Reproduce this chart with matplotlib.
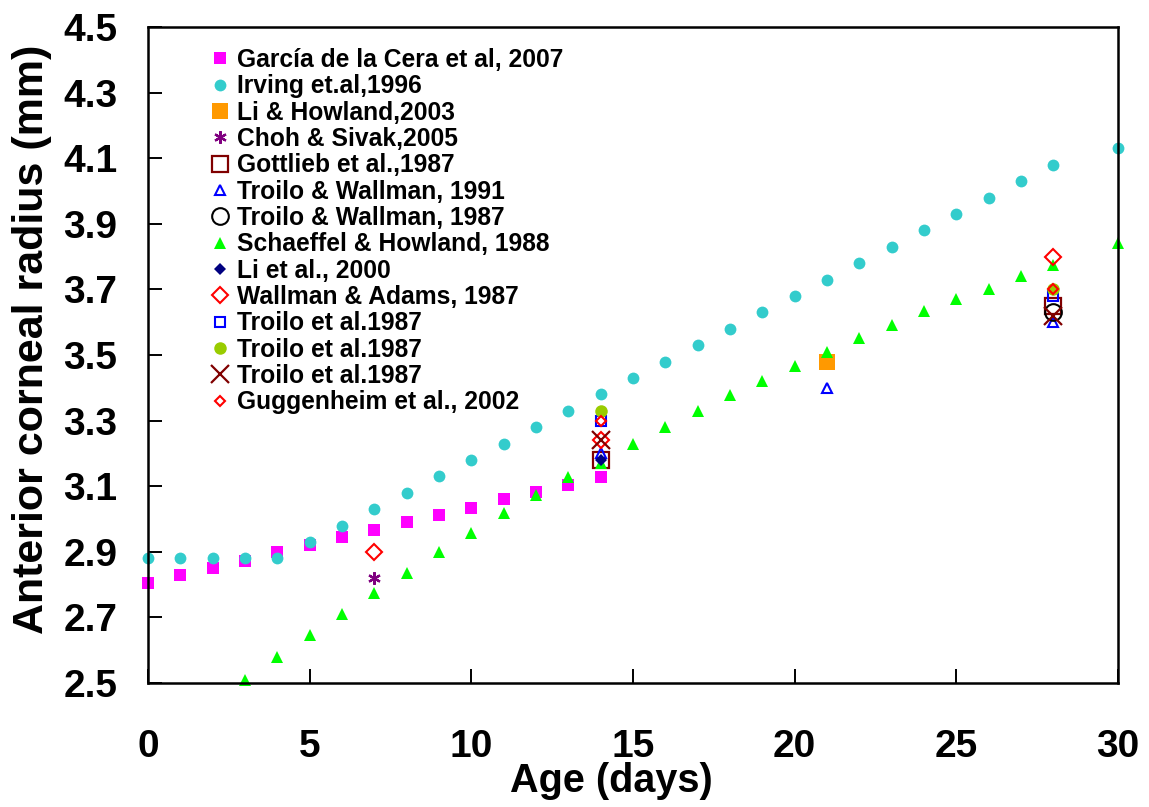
import numpy as np
import matplotlib.pyplot as plt

plt.rcParams['font.family'] = ['Liberation Sans', 'DejaVu Sans']
plt.rcParams['font.weight'] = 'bold'

# Garcia de la Cera et al, 2007
garcia_x = [0, 1, 2, 3, 4, 5, 6, 7, 8, 9, 10, 11, 12, 13, 14]
garcia_y = [2.805, 2.829, 2.851, 2.872, 2.90, 2.92, 2.945, 2.966, 2.99, 3.012,
            3.034, 3.06, 3.082, 3.104, 3.128]
# Irving et al, 1996
irving_x = [0, 1, 2, 3, 4, 5, 6, 7, 8, 9, 10, 11, 12, 13, 14, 15, 16, 17, 18,
            19, 20, 21, 22, 23, 24, 25, 26, 27, 28, 30]
irving_y = [2.88, 2.88, 2.88, 2.88, 2.88, 2.93, 2.98, 3.03, 3.08, 3.13, 3.18,
            3.23, 3.28, 3.33, 3.38, 3.43, 3.48, 3.53, 3.58, 3.63, 3.68, 3.73,
            3.78, 3.83, 3.88, 3.93, 3.98, 4.03, 4.08, 4.13]
# Schaeffel & Howland, 1988
schaeffel_x = [3, 4, 5, 6, 7, 8, 9, 10, 11, 12, 13, 14, 15, 16, 17, 18, 19, 20,
               21, 22, 23, 24, 25, 26, 27, 28, 30]
schaeffel_y = [2.51, 2.58, 2.645, 2.71, 2.775, 2.835, 2.90, 2.957, 3.018, 3.073,
               3.128, 3.17, 3.23, 3.28, 3.33, 3.378, 3.42, 3.467, 3.51, 3.552,
               3.59, 3.634, 3.67, 3.70, 3.74, 3.775, 3.84]
lihow_x, lihow_y = [21], [3.48]
choh_x, choh_y = [7], [2.82]
gottlieb_x, gottlieb_y = [14, 28], [3.18, 3.65]
tw91_x, tw91_y = [14, 21, 28], [3.20, 3.40, 3.60]
tw87_x, tw87_y = [28], [3.63]
li00_x, li00_y = [14], [3.18]
wa_x, wa_y = [7, 14, 28], [2.90, 3.24, 3.80]
tsq_x, tsq_y = [14, 28], [3.30, 3.68]
tdot_x, tdot_y = [14, 28], [3.33, 3.70]
tx_x, tx_y = [14, 28], [3.24, 3.62]
gugg_x, gugg_y = [14, 28], [3.30, 3.70]

fig = plt.figure(figsize=(11.49, 8.07), dpi=100)
ax = fig.add_axes([148/1149, 1-683/807, (1118-148)/1149, (683-27)/807])

series = [
    (garcia_x, garcia_y, 'García de la Cera et al, 2007', dict(marker='s', ms=8.5, color='#ff00ff', mew=0)),
    (irving_x, irving_y, 'Irving et.al,1996', dict(marker='o', ms=8.5, color='#33cccc', mew=0)),
    (lihow_x, lihow_y, 'Li & Howland,2003', dict(marker='s', ms=12, color='#ff9900', mew=0)),
    (choh_x, choh_y, 'Choh & Sivak,2005', dict(marker=(6, 2, 0), ms=9, color='#800080', mew=1.6)),
    (gottlieb_x, gottlieb_y, 'Gottlieb et al.,1987', dict(marker='s', ms=12, mfc='none', mec='#800000', mew=1.6)),
    (tw91_x, tw91_y, 'Troilo & Wallman, 1991', dict(marker='^', ms=7.5, mfc='none', mec='#0000ff', mew=1.5)),
    (tw87_x, tw87_y, 'Troilo & Wallman, 1987', dict(marker='o', ms=12, mfc='none', mec='black', mew=1.5)),
    (schaeffel_x, schaeffel_y, 'Schaeffel & Howland, 1988', dict(marker='^', ms=9, color='#00ff00', mew=0)),
    (li00_x, li00_y, 'Li et al., 2000', dict(marker='D', ms=6.5, color='#000080', mew=0)),
    (wa_x, wa_y, 'Wallman & Adams, 1987', dict(marker='D', ms=8.5, mfc='none', mec='#ff0000', mew=1.5)),
    (tsq_x, tsq_y, 'Troilo et al.1987', dict(marker='s', ms=7.5, mfc='none', mec='#0000ff', mew=1.5)),
    (tdot_x, tdot_y, 'Troilo et al.1987', dict(marker='o', ms=9, color='#99cc00', mew=0)),
    (tx_x, tx_y, 'Troilo et al.1987', dict(marker='x', ms=13, color='#800000', mew=1.6)),
    (gugg_x, gugg_y, 'Guggenheim et al., 2002', dict(marker='D', ms=5.5, mfc='none', mec='#ff0000', mew=1.5)),
]

for xs, ys, lab, st in series:
    ax.plot(xs, ys, ls='none', label=lab, clip_on=False, **st)

ax.set_xlim(0, 30)
ax.set_ylim(2.5, 4.5)
ax.set_xticks(np.arange(0, 31, 5))
ax.set_yticks(np.arange(2.5, 4.51, 0.2))
ax.set_yticklabels([f'{v:.1f}' for v in np.arange(2.5, 4.51, 0.2)])
ax.tick_params(axis='x', direction='in', length=10, width=1.4, labelsize=28, pad=33)
ax.tick_params(axis='y', direction='in', length=10, width=1.4, labelsize=28, pad=22)
for s in ax.spines.values():
    s.set_linewidth(1.8)

ax.set_xlabel('Age (days)', fontsize=28.5, fontweight='bold')
ax.xaxis.set_label_coords(0.478, -0.121)
ax.set_ylabel('Anterior corneal radius (mm)', fontsize=31, fontweight='bold')
ax.yaxis.set_label_coords(-0.099, 0.524)

ax.legend(loc='upper left', bbox_to_anchor=(210/1149, 1-48/807),
          bbox_transform=fig.transFigure, frameon=False,
          handlelength=0.8, handletextpad=0.3, labelspacing=0.095,
          borderpad=0, borderaxespad=0, numpoints=1,
          prop={'weight': 'bold', 'size': 17.7})

plt.savefig('out.png', dpi=100)
